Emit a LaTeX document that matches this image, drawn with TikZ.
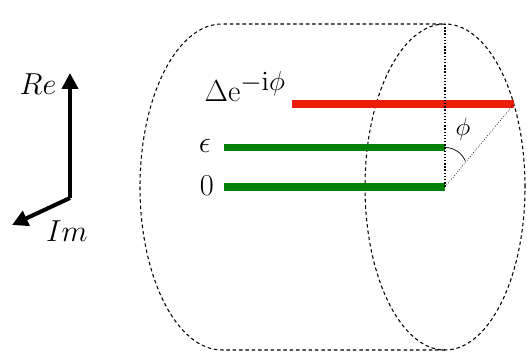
\documentclass[tikz,border=0pt]{standalone}
\usetikzlibrary{arrows.meta}
\definecolor{bandgreen}{RGB}{0,128,0}
\definecolor{bandred}{RGB}{235,30,10}
\begin{document}
\begin{tikzpicture}[every node/.style={font=\LARGE},
  band/.style={line width=4.5pt},
  axis/.style={line width=2.3pt, -{Triangle[length=9pt,width=9pt]}},
  outline/.style={semithick, dash pattern=on 2pt off 1.6pt}]
\useasboundingbox (0,0) rectangle (10.54,7.08);
\coordinate (ax) at (1.4,3.12);
\coordinate (re) at (1.4,5.62);
\coordinate (im) at (0.24,2.58);
\draw[axis] (ax) -- (re);
\draw[axis] (ax) -- (im);
\node[font=\fontsize{19}{22}\selectfont] (relab) at (0.76,5.4) {$Re$};
\node[font=\fontsize{19}{22}\selectfont] (imlab) at (1.34,2.46) {$Im$};
\coordinate (T) at (8.9,6.6);
\coordinate (B) at (8.9,0.08);
\coordinate (TL) at (4.44,6.6);
\coordinate (BL) at (4.44,0.08);
\draw[outline] (B) -- (BL) arc[start angle=270, end angle=90, x radius=1.64, y radius=3.26] -- (T);
\draw[outline] (8.9,3.34) ellipse[x radius=1.6, y radius=3.26];
\coordinate (O) at (8.9,3.34);
\coordinate (zs) at (4.48,3.34);
\coordinate (E) at (8.9,4.13);
\coordinate (es) at (4.48,4.13);
\coordinate (ds) at (5.84,5.0);
\coordinate (de) at (10.28,5.0);
\draw[band, bandred] (ds) -- (de);
\draw[band, bandgreen] (es) -- (E);
\draw[band, bandgreen] (zs) -- (O);
\draw[thick, densely dotted] (T) -- (O);
\draw[densely dotted] (O) -- (de);
\draw[thin] (E) arc[start angle=90, end angle=22, radius=0.44];
\node[font=\Large] (phi) at (9.26,4.5) {$\phi$};
\node[anchor=east] (zero) at (4.4,3.36) {$0$};
\node[anchor=east] (eps) at (4.34,4.16) {$\epsilon$};
\node[anchor=base east, inner sep=1pt] (gap) at (5.76,5.04)
  {$\Delta\mathrm{e}^{\scalebox{1.3}{$\scriptstyle-\mathrm{i}\phi$}}$};
\end{tikzpicture}
\end{document}
